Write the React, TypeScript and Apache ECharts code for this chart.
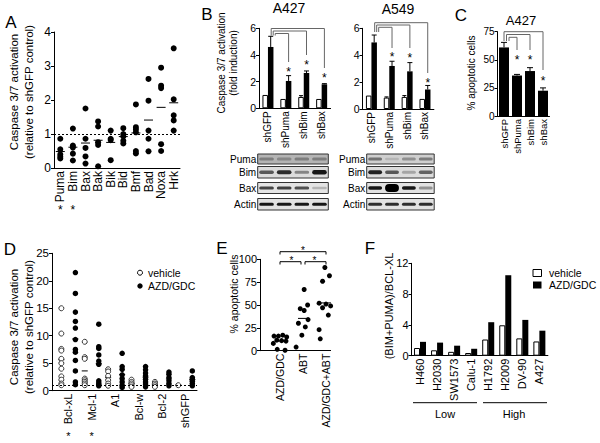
import React, { useEffect, useRef } from 'react';
import * as echarts from 'echarts';

const FONT = '"Liberation Sans", Arial, Helvetica, sans-serif';

// ---------- Panel A ----------
const aCategories = ['Puma', 'Bim', 'Bax', 'Bak', 'Bik', 'Bid', 'Bmf', 'Bad', 'Noxa', 'Hrk'];
const aValues = [
  [0.86, 0.55, 0.4, 0.33, 0.28],
  [1.16, 0.66, 0.6, 0.42, 0.22],
  [1.75, 0.86, 0.59, 0.34, 0.13],
  [1.37, 1.22, 0.76, 0.68, 0.05],
  [1.1, 0.86, 0.82, 0.23],
  [1.17, 1.0, 0.93, 0.8, 0.72],
  [1.87, 1.2, 1.13, 1.05, 0.5, 0.43],
  [2.62, 1.98, 1.1, 0.86, 0.49],
  [2.95, 2.42, 2.35, 0.7, 0.5],
  [3.52, 2.02, 1.55, 1.4, 1.1],
];
const aTicks = [0, 1, 2, 3, 4];

// ---------- Panel B ----------
const bCategories = ['shGFP', 'shPuma', 'shBim', 'shBax'];
const bA427Vehicle = [1.0, 0.7, 0.85, 0.7];
const bA427VehicleErr = [0, 0.03, 0.1, 0.03];
const bA427Treated = [4.6, 2.05, 2.65, 1.8];
const bA427TreatedErr = [0.8, 0.4, 0.15, 0.05];
const bA549Vehicle = [1.0, 0.85, 0.9, 0.75];
const bA549VehicleErr = [0, 0.05, 0.1, 0.03];
const bA549Treated = [4.95, 3.2, 2.8, 1.45];
const bA549TreatedErr = [0.55, 0.35, 0.65, 0.3];
const blotRows = ['Puma', 'Bim', 'Bax', 'Actin'];

// ---------- Panel C ----------
const cCategories = ['shGFP', 'shPuma', 'shBim', 'shBax'];
const cValues = [61, 36, 40, 22.5];
const cErr = [4.5, 1, 3, 2.5];

// ---------- Panel D ----------
const dCategories = ['Bcl-xL', 'Mcl-1', 'A1', 'Bcl-w', 'Bcl-2', 'shGFP'];
const dVehicle = [
  [15.0, 10.4, 7.6, 7.3, 5.8, 5.0, 4.0, 2.6, 2.0, 1.3, 1.0],
  [8.9, 6.1, 5.8, 2.2, 1.9, 1.6, 1.3, 1.0],
  [3.9, 3.5, 2.7, 1.9, 1.3, 0.9],
  [2.0, 1.6, 1.3, 1.0, 0.7],
  [1.6, 1.3, 1.0, 0.7],
  [1.0],
];
const dTreated = [
  [21.5, 17.7, 14.3, 12.6, 11.4, 9.3, 7.5, 7.0, 5.5, 3.6, 1.6, 1.1],
  [12.1, 8.0, 7.7, 6.5, 5.4, 4.8, 1.8, 1.4, 1.1, 0.9],
  [6.8, 4.4, 3.9, 2.9, 2.2, 1.6, 1.0, 0.6],
  [4.4, 3.8, 3.2, 2.7, 2.1, 1.6, 1.2, 0.7],
  [3.4, 3.0, 2.4, 1.8, 1.3, 0.9],
  [3.6, 2.4, 2.1, 1.7, 1.3, 0.9],
];

// ---------- Panel E ----------
const eCategories = ['AZD/GDC', 'ABT', 'AZD/GDC+ABT'];
const eValues = [
  [17, 16, 16, 15, 11.5, 11, 10.5, 8, 1.5, 0.5],
  [67, 50, 46, 44, 34, 30, 26, 17, 4],
  [91, 82, 76, 52, 51, 49, 47, 39, 23, 13],
];
const eJitter = [
  [0.12, -0.26, -0.07, 0.29, -0.14, 0.07, 0.26, -0.29, -0.12, 0.22],
  [0.05, 0.2, -0.12, 0.05, 0.22, -0.2, 0.1, -0.05, -0.3],
  [-0.05, 0.15, -0.15, -0.3, 0.0, 0.2, -0.15, 0.1, -0.3, -0.25],
];

// ---------- Panel F ----------
const fCategories = ['H460', 'H2030', 'SW1573', 'Calu-1', 'H1792', 'H2009', 'DV-90', 'A427'];
const fVehicle = [1.0, 0.7, 0.5, 0.35, 2.1, 3.95, 2.25, 1.85];
const fTreated = [1.8, 1.7, 1.3, 0.9, 4.35, 10.45, 4.65, 3.25];

// ---------- layout ----------
const G = {
  A: { left: 54, top: 32, width: 126, height: 136 },
  B1: { left: 259, top: 28.3, width: 71.6, height: 80 },
  B2: { left: 362.5, top: 28.3, width: 71.4, height: 80.7 },
  C: { left: 497.5, top: 31.7, width: 52, height: 84.3 },
  D: { left: 52, top: 253.3, width: 145, height: 137.4 },
  E: { left: 260, top: 259.3, width: 70.6, height: 91.4 },
  F: { left: 411.5, top: 263.3, width: 136.4, height: 92.4 },
};
const catX = (g: any, n: number, i: number) => g.left + (g.width * (i + 0.5)) / n;

const mean = (a: number[]) => a.reduce((s, v) => s + v, 0) / a.length;

const axisBase = (size: number) => ({
  axisLine: { show: true, onZero: false, lineStyle: { color: '#000', width: 1 } },
  axisTick: { show: true, length: 3, lineStyle: { color: '#000', width: 1 } },
  axisLabel: { color: '#000', fontFamily: FONT, fontSize: size, margin: 3 },
  splitLine: { show: false },
});
const yAx = (grid: number, min: number, max: number, interval: number, size: number) => ({
  ...axisBase(size),
  type: 'value',
  gridIndex: grid,
  min,
  max,
  interval,
});
const xCat = (grid: number, data: string[], size: number) => ({
  ...axisBase(size),
  type: 'category',
  gridIndex: grid,
  data,
  axisTick: { show: false },
  axisLabel: { color: '#000', fontFamily: FONT, fontSize: size, margin: 3, rotate: 90, interval: 0 },
});
const xVal = (grid: number, min: number, max: number, names: string[], size: number) => ({
  ...axisBase(size),
  type: 'value',
  gridIndex: grid,
  min,
  max,
  axisTick: { show: false },
  axisLabel: {
    color: '#000',
    fontFamily: FONT,
    fontSize: size,
    margin: 3,
    rotate: 90,
    customValues: names.map((_, i) => i),
    formatter: (v: number) => names[Math.round(v)] ?? '',
  },
});

const errorBars = (ax: number, vals: number[], errs: number[], offset: number, half: number) => ({
  type: 'custom',
  xAxisIndex: ax,
  yAxisIndex: ax,
  silent: true,
  z: 4,
  data: vals.map((v, i) => [i, v, v + errs[i]]),
  renderItem: (_p: any, api: any) => {
    const lo = api.coord([api.value(0), api.value(1)]);
    const hi = api.coord([api.value(0), api.value(2)]);
    if (Math.abs(lo[1] - hi[1]) < 0.5) return { type: 'group', children: [] };
    const x = lo[0] + offset;
    return {
      type: 'group',
      children: [
        { type: 'line', shape: { x1: x, y1: lo[1], x2: x, y2: hi[1] }, style: { stroke: '#000', lineWidth: 1 } },
        { type: 'line', shape: { x1: x - half, y1: hi[1], x2: x + half, y2: hi[1] }, style: { stroke: '#000', lineWidth: 1 } },
      ],
    };
  },
});

const meanLines = (ax: number, pts: number[][], half: number, z = 1) => ({
  type: 'custom',
  xAxisIndex: ax,
  yAxisIndex: ax,
  silent: true,
  z,
  data: pts,
  renderItem: (_p: any, api: any) => {
    const c = api.coord([api.value(0), api.value(1)]);
    return {
      type: 'line',
      shape: { x1: c[0] - half, y1: c[1], x2: c[0] + half, y2: c[1] },
      style: { stroke: '#000', lineWidth: 1 },
    };
  },
});

const dashed = {
  silent: true,
  symbol: 'none',
  label: { show: false },
  lineStyle: { type: [2, 2], color: '#000', width: 1, opacity: 1 },
  data: [{ yAxis: 1 }],
};

// ---------- graphic helpers ----------
const txt = (x: number, y: number, text: string, size: number, o: any = {}) => ({
  type: 'text',
  x,
  y,
  rotation: o.rot || 0,
  silent: true,
  style: {
    text,
    fill: '#000',
    fontFamily: FONT,
    fontSize: size,
    fontWeight: o.weight || 'normal',
    lineHeight: o.lh,
    textAlign: o.align || 'center',
    textVerticalAlign: o.valign || 'middle',
  },
});
const star = (x: number, gy: number, size = 12) => txt(x, gy + size * 0.23, '*', size);
const poly = (points: number[][], stroke = '#000') => ({
  type: 'polyline',
  silent: true,
  shape: { points },
  style: { stroke, fill: null, lineWidth: 1 },
});

const ROT = Math.PI / 2;

function brackets(g: any, n: number, off: number, levels: any[], leftEnd: number, stroke: string) {
  const out: any[] = [];
  const x0 = catX(g, n, 0) + off;
  levels.forEach((l) => {
    const xl = x0 + l.lx;
    const xr = catX(g, n, l.to) + off;
    out.push(poly([[xl, leftEnd], [xl, l.y], [xr, l.y], [xr, l.drop]], stroke));
  });
  return out;
}

const rowsY = [
  { y: 154, h: 10 },
  { y: 166.5, h: 11.5 },
  { y: 182.5, h: 11 },
  { y: 198.5, h: 11.5 },
];

function blot(x0: number, w: number, bg: string[], bands: number[][], thick: number[][]) {
  const out: any[] = [];
  rowsY.forEach((r, ri) => {
    out.push(txt(x0 - 1.5, r.y + r.h / 2, blotRows[ri], 10, { align: 'right' }));
    out.push({
      type: 'rect',
      silent: true,
      shape: { x: x0, y: r.y, width: w, height: r.h },
      style: { fill: bg[ri], stroke: '#333', lineWidth: 1 },
    });
    for (let j = 0; j < 4; j++) {
      const cx = x0 + (w * (j + 0.5)) / 4;
      const bw = w / 4 - 3;
      const bh = thick[ri][j];
      out.push({
        type: 'rect',
        silent: true,
        shape: { x: cx - bw / 2, y: r.y + r.h / 2 - bh / 2, width: bw, height: bh, r: bh / 2 },
        style: { fill: `rgba(0,0,0,${bands[ri][j]})` },
      });
    }
  });
  return out;
}

function buildOption(): any {
  const bw = 5.5;
  const grids = [G.A, G.B1, G.B2, G.C, G.D, G.E, G.F].map((g) => ({ ...g, containLabel: false }));

  const xAxis = [
    xCat(0, aCategories, 12),
    xCat(1, bCategories, 10),
    xCat(2, bCategories, 10),
    xCat(3, cCategories, 9.5),
    xVal(4, -0.7, 5.5, dCategories, 11),
    xVal(5, -0.87, 2.2, eCategories, 10.5),
    xCat(6, fCategories, 11),
  ];
  const yAxis = [
    yAx(0, aTicks[0], aTicks[aTicks.length - 1], 1, 12),
    yAx(1, 0, 6, 2, 10.5),
    yAx(2, 0, 6, 2, 10.5),
    yAx(3, 0, 75, 25, 10),
    yAx(4, 0, 25, 5, 11.5),
    yAx(5, 0, 100, 25, 11),
    yAx(6, 0, 12, 4, 11),
  ];

  const barW = (ax: number, data: number[], white: boolean, w: number) => ({
    type: 'bar',
    xAxisIndex: ax,
    yAxisIndex: ax,
    data,
    barWidth: w,
    barGap: '0%',
    silent: true,
    itemStyle: white
      ? { color: '#fff', borderColor: '#000', borderWidth: 1, opacity: 1 }
      : { color: '#000', borderColor: '#000', borderWidth: 0, opacity: 1 },
  });

  const series: any[] = [
    // A
    {
      type: 'scatter',
      xAxisIndex: 0,
      yAxisIndex: 0,
      symbolSize: 6,
      itemStyle: { color: '#000', opacity: 1 },
      data: aValues.flatMap((arr, i) => arr.map((v) => [i, v])),
      markLine: dashed,
      silent: true,
    },
    meanLines(0, aValues.map((arr, i) => [i, mean(arr)]), 4.5),
    // B A427
    barW(1, bA427Vehicle, true, bw),
    barW(1, bA427Treated, false, bw),
    errorBars(1, bA427Vehicle, bA427VehicleErr, -bw / 2, 2),
    errorBars(1, bA427Treated, bA427TreatedErr, bw / 2, 2.5),
    // B A549
    barW(2, bA549Vehicle, true, bw),
    barW(2, bA549Treated, false, bw),
    errorBars(2, bA549Vehicle, bA549VehicleErr, -bw / 2, 2),
    errorBars(2, bA549Treated, bA549TreatedErr, bw / 2, 2.5),
    // C
    barW(3, cValues, false, 10),
    errorBars(3, cValues, cErr, 0, 3),
    // D
    meanLines(4, dVehicle.map((arr, i) => [i - 0.3, mean(arr)]), 3, 1),
    meanLines(4, dTreated.map((arr, i) => [i + 0.3, mean(arr)]), 3, 1),
    {
      type: 'scatter',
      xAxisIndex: 4,
      yAxisIndex: 4,
      symbolSize: 5,
      silent: true,
      itemStyle: { color: '#fff', borderColor: '#333', borderWidth: 1, opacity: 1 },
      data: dVehicle.flatMap((arr, i) => arr.map((v) => [i - 0.3, v])),
      z: 3,
    },
    {
      type: 'scatter',
      xAxisIndex: 4,
      yAxisIndex: 4,
      symbolSize: 5.5,
      silent: true,
      itemStyle: { color: '#000', opacity: 1 },
      data: dTreated.flatMap((arr, i) => arr.map((v) => [i + 0.3, v])),
      markLine: dashed,
      z: 3,
    },
    // E
    {
      type: 'scatter',
      xAxisIndex: 5,
      yAxisIndex: 5,
      symbolSize: 5,
      silent: true,
      itemStyle: { color: '#000', opacity: 1 },
      data: eValues.flatMap((arr, i) => arr.map((v, j) => [i + eJitter[i][j], v])),
    },
    meanLines(5, eValues.map((arr, i) => [i, mean(arr)]), 5),
    // F
    barW(6, fVehicle, true, 6),
    barW(6, fTreated, false, 6),
  ];

  // ----- annotations -----
  const gr: any[] = [];
  // panel letters
  gr.push(txt(11, 22, 'A', 17));
  gr.push(txt(207, 14, 'B', 17));
  gr.push(txt(461, 15, 'C', 17));
  gr.push(txt(10, 249, 'D', 17));
  gr.push(txt(222, 248, 'E', 17));
  gr.push(txt(370, 248, 'F', 17));
  // titles
  gr.push(txt(289, 8, 'A427', 14));
  gr.push(txt(398, 9, 'A549', 14));
  gr.push(txt(521, 20, 'A427', 13));
  // y axis titles
  gr.push(txt(21, 92, 'Caspase 3/7 activation\n(relative to shGFP control)', 11.5, { rot: ROT, lh: 15 }));
  gr.push(txt(21, 327, 'Caspase 3/7 activation\n(relative to shGFP control)', 11.5, { rot: ROT, lh: 15 }));
  gr.push(txt(227.5, 63, 'Caspase 3/7 activation\n(fold induction)', 10, { rot: ROT, lh: 12 }));
  gr.push(txt(471, 73, '% apoptotic cells', 10, { rot: ROT }));
  gr.push(txt(233.5, 294, '% apoptotic cells', 10.5, { rot: ROT }));
  gr.push(txt(389, 306, '(BIM+PUMA)/BCL-XL', 11, { rot: ROT }));

  // A asterisks below labels
  gr.push(star(catX(G.A, 10, 0), 207));
  gr.push(star(catX(G.A, 10, 1), 207));
  // D asterisks
  const dx = (i: number) => G.D.left + ((i + 0.7) * G.D.width) / 6.2;
  gr.push(star(dx(0), 433, 11));
  gr.push(star(dx(1), 433, 11));

  // B1 brackets
  gr.push(
    ...brackets(G.B1, 4, bw / 2, [
      { to: 3, y: 28.5, lx: 0.5, drop: 68 },
      { to: 2, y: 31, lx: 2.5, drop: 55 },
      { to: 1, y: 33.5, lx: 4.5, drop: 62 },
    ], 35.5, '#666')
  );
  gr.push(star(catX(G.B1, 4, 1) + bw / 2, 69));
  gr.push(star(catX(G.B1, 4, 2) + bw / 2, 62));
  gr.push(star(catX(G.B1, 4, 3) + bw / 2, 75));
  // B2 brackets
  gr.push(
    ...brackets(G.B2, 4, bw / 2, [
      { to: 3, y: 22.7, lx: 0.5, drop: 73 },
      { to: 2, y: 25, lx: 2.5, drop: 48 },
      { to: 1, y: 27.3, lx: 4.5, drop: 48 },
    ], 32, '#666')
  );
  gr.push(star(catX(G.B2, 4, 1) + bw / 2, 54));
  gr.push(star(catX(G.B2, 4, 2) + bw / 2, 55));
  gr.push(star(catX(G.B2, 4, 3) + bw / 2, 80));
  // C brackets
  gr.push(
    ...brackets(G.C, 4, 0, [
      { to: 3, y: 31.7, lx: 0, drop: 70 },
      { to: 2, y: 34.5, lx: 2.5, drop: 50 },
      { to: 1, y: 37.3, lx: 5, drop: 50 },
    ], 41, '#666')
  );
  gr.push(star(catX(G.C, 4, 1), 57));
  gr.push(star(catX(G.C, 4, 2), 57));
  gr.push(star(catX(G.C, 4, 3), 78));

  // E brackets
  const ek = G.E.width / 3.07;
  const ex = (i: number) => G.E.left + (i + 0.87) * ek;
  gr.push(poly([[ex(0), 254.5], [ex(0), 251.7], [ex(2), 251.7], [ex(2), 254.5]]));
  gr.push(poly([[ex(0), 264.5], [ex(0), 261.7], [ex(1) - 2, 261.7], [ex(1) - 2, 264.5]]));
  gr.push(poly([[ex(1) + 2, 264.5], [ex(1) + 2, 261.7], [ex(2), 261.7], [ex(2), 264.5]]));
  gr.push(star(ex(1), 248.5, 10));
  gr.push(star((ex(0) + ex(1)) / 2, 258.5, 10));
  gr.push(star((ex(1) + ex(2)) / 2, 258.5, 10));

  // D legend
  gr.push({ type: 'circle', silent: true, shape: { cx: 140, cy: 272.7, r: 2.5 }, style: { fill: '#fff', stroke: '#000', lineWidth: 1 } });
  gr.push({ type: 'circle', silent: true, shape: { cx: 140, cy: 286, r: 2.7 }, style: { fill: '#000' } });
  gr.push(txt(148, 272.7, 'vehicle', 10.5, { align: 'left' }));
  gr.push(txt(148, 286, 'AZD/GDC', 10.5, { align: 'left' }));

  // F legend
  gr.push({ type: 'rect', silent: true, shape: { x: 533, y: 269.5, width: 8.5, height: 7 }, style: { fill: '#fff', stroke: '#000', lineWidth: 1 } });
  gr.push({ type: 'rect', silent: true, shape: { x: 533, y: 281.5, width: 8.5, height: 7 }, style: { fill: '#000' } });
  gr.push(txt(549, 273, 'vehicle', 10.5, { align: 'left' }));
  gr.push(txt(549, 285, 'AZD/GDC', 10.5, { align: 'left' }));

  // F groups
  gr.push(poly([[413, 402.7], [477, 402.7]]));
  gr.push(poly([[483, 402.7], [547, 402.7]]));
  gr.push(txt(445, 414, 'Low', 11));
  gr.push(txt(514, 414, 'High', 11));

  // western blots
  gr.push(
    ...blot(
      257.7,
      70.6,
      ['#b4b4b4', '#dcdcdc', '#e4e4e4', '#e2e2e2'],
      [
        [0.3, 0.25, 0.3, 0.3],
        [0.6, 0.8, 0.4, 0.9],
        [0.7, 0.72, 0.65, 0.2],
        [0.9, 0.9, 0.9, 0.9],
      ],
      [
        [3, 3, 3, 3],
        [3.5, 4, 3, 4.5],
        [3, 3, 3, 2.5],
        [3, 3, 3, 3],
      ]
    )
  );
  gr.push(
    ...blot(
      366.7,
      67.5,
      ['#cfcfcf', '#dcdcdc', '#e2e2e2', '#e2e2e2'],
      [
        [0.45, 0.12, 0.3, 0.4],
        [0.85, 0.6, 0.25, 0.55],
        [0.9, 1.0, 0.9, 0.35],
        [0.8, 0.8, 0.8, 0.8],
      ],
      [
        [3, 2.5, 3, 3],
        [4, 3.5, 3, 3.5],
        [3.5, 8, 3.5, 3],
        [3, 3, 3, 3],
      ]
    )
  );

  return {
    animation: false,
    backgroundColor: '#fff',
    textStyle: { fontFamily: FONT },
    grid: grids,
    xAxis,
    yAxis,
    series,
    graphic: gr,
  };
}

export default function App() {
  const ref = useRef<HTMLDivElement>(null);
  useEffect(() => {
    if (!ref.current) return;
    const chart = echarts.init(ref.current, undefined, { renderer: 'svg' });
    chart.setOption(buildOption());
    return () => chart.dispose();
  }, []);
  return (
    <div
      ref={ref}
      style={{ position: 'absolute', left: 0, top: 0, width: 600, height: 443, background: '#fff' }}
    />
  );
}
